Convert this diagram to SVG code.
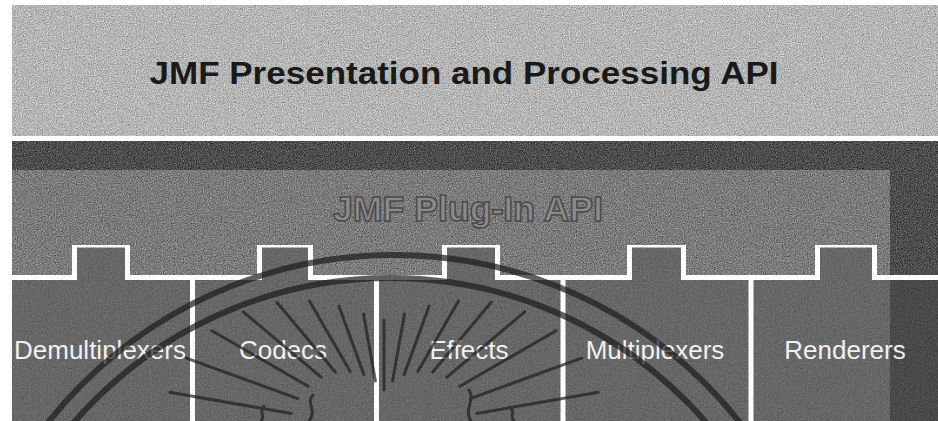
<svg xmlns="http://www.w3.org/2000/svg" width="938" height="421" viewBox="0 0 938 421">
  <defs>
    <filter id="grain" x="0" y="0" width="100%" height="100%" color-interpolation-filters="sRGB">
      <feTurbulence type="fractalNoise" baseFrequency="0.85" numOctaves="2" seed="7" result="n"/>
      <feColorMatrix in="n" type="matrix" values="0.33 0.33 0.33 0 0  0.33 0.33 0.33 0 0  0.33 0.33 0.33 0 0  0 0 0 0 1" result="g"/>
      <feComposite in="SourceGraphic" in2="g" operator="arithmetic" k1="0" k2="1" k3="1.0" k4="-0.5" result="c"/>
      <feComposite in="c" in2="SourceGraphic" operator="in"/>
    </filter>
    <filter id="grainWeak" x="0" y="0" width="100%" height="100%" color-interpolation-filters="sRGB">
      <feTurbulence type="fractalNoise" baseFrequency="0.7" numOctaves="2" seed="3" result="n"/>
      <feColorMatrix in="n" type="matrix" values="0.33 0.33 0.33 0 0  0.33 0.33 0.33 0 0  0.33 0.33 0.33 0 0  0 0 0 0 1" result="g"/>
      <feComposite in="SourceGraphic" in2="g" operator="arithmetic" k1="0" k2="1" k3="0.35" k4="-0.175" result="c"/>
      <feComposite in="c" in2="SourceGraphic" operator="in"/>
    </filter>
  </defs>
  <style>
    .title { font-family: "Liberation Sans", Arial, sans-serif; font-weight: bold; text-anchor: middle; }
    .box { fill: #676767; stroke: #ffffff; stroke-width: 5; stroke-linejoin: miter; filter: url(#grainWeak); }
    .lbl { font-family: "Liberation Sans", Arial, sans-serif; font-size: 26px; fill: #f0f0f0; text-anchor: middle; }
    .ray { stroke: #1e1e1e; stroke-width: 3; stroke-linecap: round; fill: none; }
    .arc { stroke: #1c1c1c; stroke-width: 6; fill: none; }
  </style>

  <rect x="0" y="0" width="938" height="421" fill="#ffffff"/>

  <g id="presentation-api">
    <rect x="12" y="5" width="926" height="131" fill="#b6b6b6" filter="url(#grain)"/>
    <text class="title" x="464" y="84" font-size="32" fill="#1a1a1a" textLength="629" lengthAdjust="spacingAndGlyphs">JMF Presentation and Processing API</text>
  </g>

  <g id="plugin-api">
    <rect x="12" y="141" width="926" height="137" fill="#4e4e4e" filter="url(#grain)"/>
    <rect x="12" y="170" width="878" height="108" fill="#7c7c7c" filter="url(#grain)"/>
    <text class="title" x="468" y="221" font-size="35" fill="#8a8a8a" stroke="#4a4a4a" stroke-width="1.5" textLength="270" lengthAdjust="spacingAndGlyphs">JMF Plug-In API</text>
  </g>

  <g id="demultiplexers">
    <path class="box" d="M 9.5 277.5 H 74.5 V 245 H 127.5 V 277.5 H 192.5 V 430 H 9.5 Z"/>
    <text class="lbl" x="100" y="359">Demultiplexers</text>
  </g>
  <g id="codecs">
    <path class="box" d="M 192.5 277.5 H 259.5 V 245 H 310.5 V 277.5 H 376.5 V 430 H 192.5 Z"/>
    <text class="lbl" x="283" y="359">Codecs</text>
  </g>
  <g id="effects">
    <path class="box" d="M 376.5 277.5 H 444.5 V 245 H 497.5 V 277.5 H 563 V 430 H 376.5 Z"/>
    <text class="lbl" x="469" y="359">Effects</text>
  </g>
  <g id="multiplexers">
    <path class="box" d="M 563 277.5 H 629.5 V 245 H 683.5 V 277.5 H 751 V 430 H 563 Z"/>
    <text class="lbl" x="655" y="359">Multiplexers</text>
  </g>
  <g id="renderers">
    <path class="box" d="M 751 277.5 H 817.5 V 245 H 874.5 V 277.5 H 945 V 430 H 751 Z"/>
    <rect x="890" y="280" width="48" height="141" fill="#4a4a4a" filter="url(#grainWeak)"/>
    <text class="lbl" x="845" y="359">Renderers</text>
  </g>

  <g id="watermark" opacity="0.7">
    <circle class="arc" cx="394" cy="696" r="441"/>
    <circle class="arc" cx="390" cy="696" r="418"/>
    <line class="ray" x1="476.8" y1="413.6" x2="598.2" y2="392.2"/>
    <line class="ray" x1="470.2" y1="398.6" x2="581.6" y2="358.1"/>
    <line class="ray" x1="459.9" y1="386.2" x2="556.1" y2="330.7"/>
    <line class="ray" x1="446.9" y1="377.2" x2="524.7" y2="311.9"/>
    <line class="ray" x1="432.5" y1="372.2" x2="491.2" y2="302.3"/>
    <line class="ray" x1="417.8" y1="371.5" x2="458.5" y2="301.1"/>
    <line class="ray" x1="404.1" y1="374.7" x2="429.1" y2="305.9"/>
    <line class="ray" x1="392.6" y1="381.1" x2="404.5" y2="313.9"/>
    <line class="ray" x1="384" y1="390" x2="384" y2="320"/>
    <line class="ray" x1="375.4" y1="381.1" x2="363.5" y2="313.9"/>
    <line class="ray" x1="363.9" y1="374.7" x2="338.9" y2="305.9"/>
    <line class="ray" x1="350.2" y1="371.5" x2="309.5" y2="301.1"/>
    <line class="ray" x1="335.5" y1="372.2" x2="276.8" y2="302.3"/>
    <line class="ray" x1="321.1" y1="377.2" x2="243.3" y2="311.9"/>
    <line class="ray" x1="308.1" y1="386.2" x2="211.9" y2="330.7"/>
    <line class="ray" x1="297.8" y1="398.6" x2="186.4" y2="358.1"/>
    <line class="ray" x1="291.2" y1="413.6" x2="169.8" y2="392.2"/>
    <path class="ray" d="M 313 395 C 305 403, 318 410, 309 421"/>
    <path class="ray" d="M 264 406 C 258 412, 266 416, 261 421"/>
    <path class="ray" d="M 469 390 C 476 400, 463 410, 471 421"/>
    <path class="ray" d="M 510 407 C 516 412, 509 417, 514 421"/>
  </g>
</svg>
